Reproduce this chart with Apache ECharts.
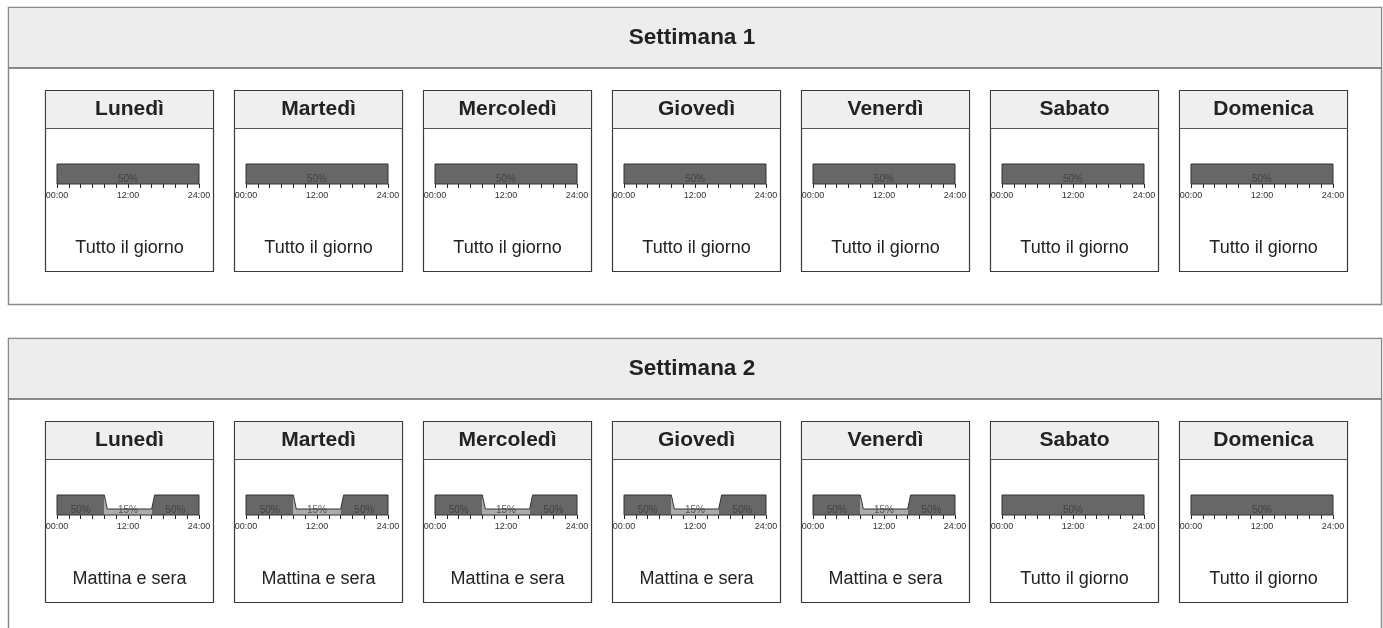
<!DOCTYPE html>
<html>
<head>
<meta charset="utf-8">
<script src="https://cdn.jsdelivr.net/npm/echarts@6/dist/echarts.min.js"></script>
<style>html,body{margin:0;padding:0;background:#fff;}#c{width:1383px;height:628px;}</style>
</head>
<body>
<div id="c"></div>
<script>
const weekTitles = ['Settimana 1', 'Settimana 2'];
const dayNames = ['Lunedì', 'Martedì', 'Mercoledì', 'Giovedì', 'Venerdì', 'Sabato', 'Domenica'];
const programNames = ['Tutto il giorno', 'Mattina e sera'];
// profile points [hour, percent]
const profileAllDay = [[0, 50], [24, 50]];
const profileMorningEvening = [[0, 50], [8, 50], [8.5, 15], [16, 15], [16.5, 50], [24, 50]];
// labelled segments [from hour, to hour, percent]
const segmentsAllDay = [[0, 24, 50]];
const segmentsMorningEvening = [[0, 8, 50], [8, 16, 15], [16, 24, 50]];
const profiles = [profileAllDay, profileMorningEvening];
const segments = [segmentsAllDay, segmentsMorningEvening];
// program index per day, per week
const week1Program = [0, 0, 0, 0, 0, 0, 0];
const week2Program = [1, 1, 1, 1, 1, 0, 0];
const weekPrograms = [week1Program, week2Program];
const hourTicks = [0, 12, 24];

const FONT = '"Liberation Sans", Arial, Helvetica, sans-serif';
const chart = echarts.init(document.getElementById('c'), null, {renderer: 'canvas'});

const weekOffset = 331;
const boxX0 = 45, boxStep = 189, boxW = 168, boxH = 181, boxY0 = 90, boxHeadH = 38;

const graphic = [];
const grids = [], xAxes = [], yAxes = [], series = [];

weekTitles.forEach((wt, w) => {
  const py = 7 + w * weekOffset;
  graphic.push({type: 'rect', z: 0, shape: {x: 8.5, y: py + 0.5, width: 1373, height: 297},
    style: {fill: '#ffffff', stroke: '#8a8a8a', lineWidth: 1.5}});
  graphic.push({type: 'rect', z: 0, shape: {x: 9.25, y: py + 1.25, width: 1371.5, height: 60},
    style: {fill: '#ededed'}});
  graphic.push({type: 'line', z: 0, shape: {x1: 8.5, y1: py + 61, x2: 1381.5, y2: py + 61},
    style: {stroke: '#666', lineWidth: 1.5}});
  graphic.push({type: 'text', z: 1, x: 692, y: py + 31,
    style: {text: wt, fill: '#222', font: 'bold 22.5px ' + FONT, align: 'center', verticalAlign: 'middle'}});

  dayNames.forEach((dn, d) => {
    const bx = boxX0 + d * boxStep;
    const by = boxY0 + w * weekOffset;
    const prog = weekPrograms[w][d];
    graphic.push({type: 'rect', z: 0, shape: {x: bx + 0.5, y: by + 0.5, width: boxW, height: boxH},
      style: {fill: '#ffffff', stroke: '#3a3a3a', lineWidth: 1.2}});
    graphic.push({type: 'rect', z: 0, shape: {x: bx + 1.1, y: by + 1.1, width: boxW - 1.2, height: boxHeadH - 1},
      style: {fill: '#efefef'}});
    graphic.push({type: 'line', z: 0, shape: {x1: bx + 0.5, y1: by + boxHeadH + 0.5, x2: bx + boxW + 0.5, y2: by + boxHeadH + 0.5},
      style: {stroke: '#555', lineWidth: 1.2}});
    graphic.push({type: 'text', z: 1, x: bx + boxW / 2 + 0.5, y: by + 19.5,
      style: {text: dn, fill: '#222', font: 'bold 21px ' + FONT, align: 'center', verticalAlign: 'middle'}});
    graphic.push({type: 'text', z: 1, x: bx + boxW / 2 + 0.5, y: by + 158.5,
      style: {text: programNames[prog], fill: '#222', font: '18px ' + FONT, align: 'center', verticalAlign: 'middle'}});

    const gi = grids.length;
    grids.push({left: bx + 12, top: by + 54, width: 142, height: 43});
    xAxes.push({
      gridIndex: gi, type: 'value', min: 0, max: 24, interval: 2,
      axisLine: {show: false},
      axisTick: {show: true, length: 4, lineStyle: {color: '#222', width: 1}},
      splitLine: {show: false},
      axisLabel: {show: true, fontSize: 9, color: '#333', margin: 4, fontFamily: FONT,
        showMinLabel: true, showMaxLabel: true, hideOverlap: false,
        formatter: v => hourTicks.includes(v) ? String(v).padStart(2, '0') + ':00' : ''}
    });
    yAxes.push({gridIndex: gi, type: 'value', min: -7.5, max: 100, show: false});

    const prof = profiles[prog];
    const segs = segments[prog];
    const x0 = prof[0][0], x1 = prof[prof.length - 1][0];
    const pts = [[x0, 0]].concat(prof).concat([[x1, 0], [x0, 0]]);
    const stops = [];
    segs.forEach(s => {
      const c = s[2] >= 50 ? '#676767' : '#ababab';
      stops.push({offset: (s[0] - x0) / (x1 - x0), color: c});
      stops.push({offset: (s[1] - x0) / (x1 - x0), color: c});
    });
    series.push({
      type: 'line', xAxisIndex: gi, yAxisIndex: gi, data: pts, symbol: 'none', silent: true,
      lineStyle: {color: '#333', width: 1},
      areaStyle: {opacity: 1, origin: 0, color: new echarts.graphic.LinearGradient(0, 0, 1, 0, stops)},
      z: 2
    });
    series.push({
      type: 'scatter', xAxisIndex: gi, yAxisIndex: gi, silent: true,
      data: segs.map(s => [(s[0] + s[1]) / 2, 0, s[2]]),
      symbolSize: 0.1, itemStyle: {color: 'rgba(0,0,0,0)'},
      label: {show: true, position: 'top', distance: 0, fontSize: 10, color: '#3a3a3a', fontFamily: FONT,
        formatter: p => p.value[2] + '%'},
      z: 3
    });
  });
});

chart.setOption({
  animation: false,
  backgroundColor: '#ffffff',
  graphic: graphic,
  grid: grids,
  xAxis: xAxes,
  yAxis: yAxes,
  series: series
});
</script>
</body>
</html>
